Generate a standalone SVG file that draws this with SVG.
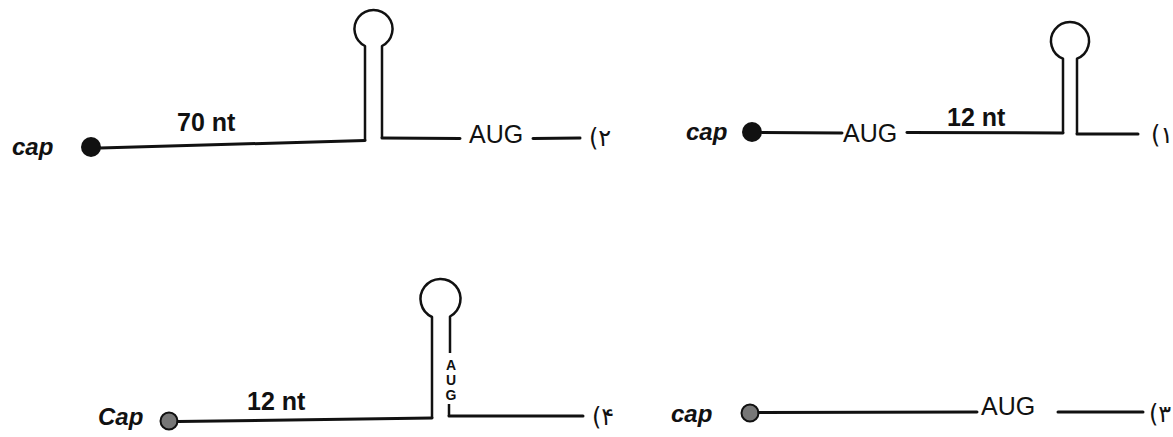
<svg xmlns="http://www.w3.org/2000/svg" width="1173" height="437" viewBox="0 0 1173 437">
<style>
  .ln{fill:none;stroke:#111;stroke-width:3;stroke-linecap:round;stroke-linejoin:round}
  .st{fill:none;stroke:#111;stroke-width:2.5;stroke-linejoin:round}
  .cap{font-family:"Liberation Sans",Arial,sans-serif;font-size:24px;font-style:italic;font-weight:bold;fill:#111}
  .nt{font-family:"Liberation Sans",Arial,sans-serif;font-size:25px;font-weight:bold;fill:#111}
  .aug{font-family:"Liberation Sans",Arial,sans-serif;font-size:25px;fill:#111}
  .augv{font-family:"Liberation Sans",Arial,sans-serif;font-size:14px;font-weight:bold;fill:#111;text-anchor:middle}
  .num{font-family:"DejaVu Sans","Noto Sans",sans-serif;font-size:24px;fill:#111;direction:ltr;unicode-bidi:bidi-override}
  .dot{fill:#111}
  .gdot{fill:#777;stroke:#111;stroke-width:2}
</style>
<rect width="1173" height="437" fill="#fff"/>

<!-- Panel 2 (top left) -->
<g id="panel2">
  <text class="cap" x="12" y="155">cap</text>
  <circle id="cap2" class="dot" cx="91" cy="147" r="10"/>
  <text class="nt" x="177" y="131">70 nt</text>
  <g id="hairpin2"><path class="st" d="M365,140.5 V46 A19 19 0 1 1 382,46 V138"/></g>
  <text class="aug" x="469" y="143">AUG</text>
  <text class="num" x="589" y="146">(۲</text>
</g>

<!-- Panel 1 (top right) -->
<g id="panel1">
  <text class="cap" x="686" y="140">cap</text>
  <circle id="cap1" class="dot" cx="752" cy="132" r="10"/>
  <text class="aug" x="843" y="142">AUG</text>
  <text class="nt" x="947" y="126">12 nt</text>
  <g id="hairpin1"><path class="st" d="M1063,133 V58.7 A19 19 0 1 1 1077,58.7 V134"/></g>
  <text class="num" x="1151" y="143">(۱</text>
</g>

<!-- Panel 4 (bottom left) -->
<g id="panel4">
  <text class="cap" x="98" y="425">Cap</text>
  <circle id="cap4" class="gdot" cx="169" cy="421" r="8.5"/>
  <text class="nt" x="247" y="410">12 nt</text>
  <g id="hairpin4"><path class="st" d="M432,418 V317 A20 20 0 1 1 450,316.5 V353"/></g>
  <text class="augv" x="451" y="370">A</text>
  <text class="augv" x="451" y="385">U</text>
  <text class="augv" x="451" y="400">G</text>
  <text class="num" x="592" y="425">(۴</text>
</g>

<!-- Panel 3 (bottom right) -->
<g id="panel3">
  <text class="cap" x="671" y="422">cap</text>
  <circle id="cap3" class="gdot" cx="750" cy="413" r="8.5"/>
  <text class="aug" x="981" y="415">AUG</text>
  <text class="num" x="1149" y="422">(۳</text>
</g>

<g id="connectors">
  <path class="ln" d="M100,148 L365,140.5"/>
  <path class="ln" d="M382,138 L460,138.5"/>
  <path class="ln" d="M533,138.5 L580,138"/>
  <path class="ln" d="M762,132.5 L842,133"/>
  <path class="ln" d="M907,132.5 L1063,133"/>
  <path class="ln" d="M1077,134 L1138,134"/>
  <path class="ln" d="M178,421.5 L432,418"/>
  <path class="st" d="M449,404 V416"/>
  <path class="ln" d="M449,416 L583,416"/>
  <path class="ln" d="M759,412.5 L977,412"/>
  <path class="ln" d="M1058,412 L1143,412"/>
</g>
</svg>
